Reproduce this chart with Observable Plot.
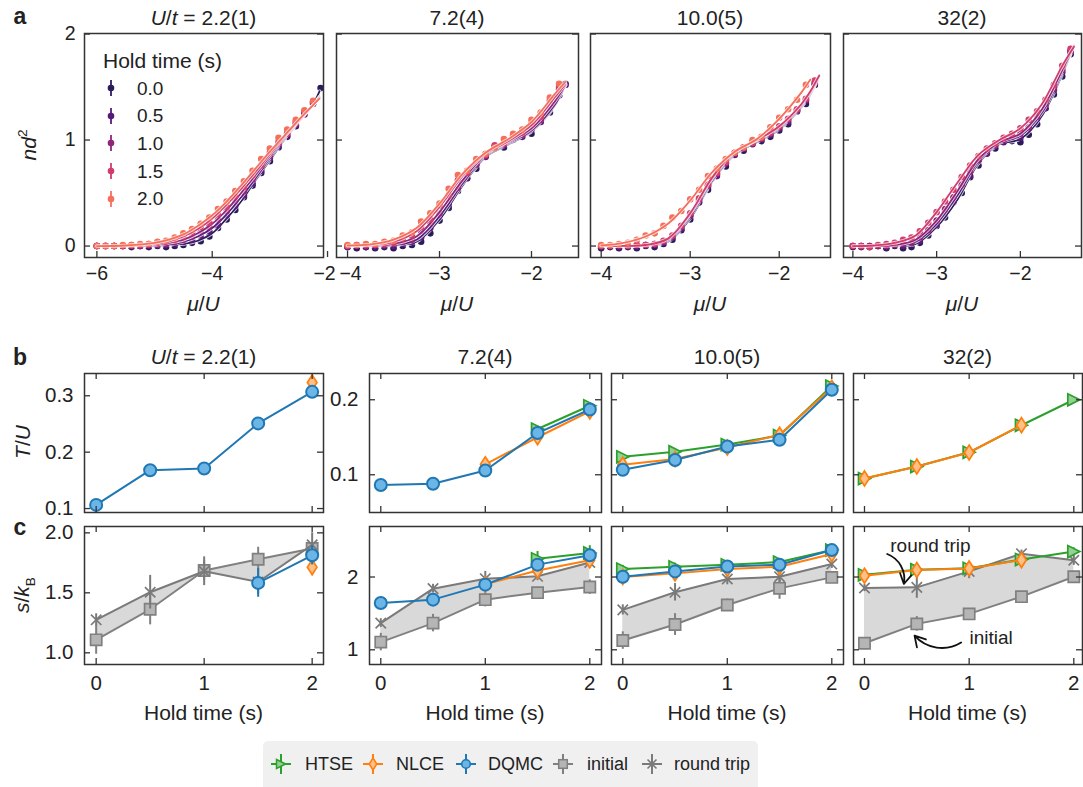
<!DOCTYPE html>
<html>
<head>
<meta charset="utf-8">
<script src="https://cdn.jsdelivr.net/npm/d3@7"></script>
<script src="https://cdn.jsdelivr.net/npm/@observablehq/plot@0.6"></script>
<style>
  body { margin: 0; background: #fff; }
  #fig { position: relative; width: 1083px; height: 787px; overflow: hidden; background: #fff;
         font-family: "Liberation Sans", Arial, Helvetica, sans-serif; color: #222; }
  .lbl { position: absolute; white-space: nowrap; line-height: 1; transform: translate(-50%, -50%); }
  .lbl sup { font-size: 0.65em; position: relative; top: -0.1em; }
  .lbl sub { font-size: 0.65em; position: relative; top: 0.05em; }
  .leg { position: absolute; white-space: nowrap; line-height: 1; }
</style>
</head>
<body>
<div id="fig"></div>
<script>
// ---------- data ----------
const holdTimes = [0, 0.5, 1, 1.5, 2];
const holdLabels = ["0.0", "0.5", "1.0", "1.5", "2.0"];
const holdColors = ["#2c1b5c", "#561b7a", "#8f2478", "#d23c6c", "#f56f5b"];
const couplings = ["2.2(1)", "7.2(4)", "10.0(5)", "32(2)"];

// panel a: nd^2 against mu/U, measured points and fitted curves, one row per hold time
const a1Mu = [-6.0,-5.85,-5.7,-5.55,-5.4,-5.25,-5.1,-4.95,-4.8,-4.65,-4.5,-4.35,-4.2,-4.05,-3.9,-3.75,-3.6,-3.45,-3.3,-3.15,-3.0,-2.85,-2.7,-2.55,-2.4,-2.25,-2.12];
const a1Dots = [
  [0,0,0,0,-0.01,0,-0.01,0,-0.01,0,0.01,0.03,0.045,0.09,0.17,0.25,0.34,0.46,0.57,0.69,0.80,0.93,1.03,1.13,1.26,1.36,1.49],
  [0,0,0,0,0,0,0,0.01,0.01,0.02,0.04,0.06,0.10,0.14,0.20,0.29,0.38,0.48,0.59,0.71,0.83,0.94,1.04,1.14,1.24,1.34,null],
  [0,0,0,0,0,0,0.01,0.01,0.02,0.04,0.06,0.09,0.14,0.18,0.25,0.33,0.43,0.52,0.63,0.75,0.85,0.96,1.06,1.15,1.25,1.35,null],
  [0,0,0,0,0.01,0.01,0.02,0.03,0.04,0.06,0.09,0.13,0.18,0.22,0.30,0.37,0.47,0.56,0.67,0.76,0.88,0.98,1.06,1.17,1.27,1.36,null],
  [0,0,0,0.01,0.01,0.02,0.02,0.04,0.05,0.08,0.12,0.16,0.21,0.27,0.35,0.42,0.52,0.61,0.71,0.82,0.92,1.02,1.10,1.19,1.28,1.37,null]
];
const a1FitMu = [-6,-5.5,-5,-4.75,-4.5,-4.25,-4,-3.75,-3.5,-3.25,-3,-2.75,-2.5,-2.25,-2.14];
const a1Fit = [
  [0,0,0.002,0.008,0.02,0.05,0.12,0.26,0.42,0.62,0.81,1.0,1.17,1.34,1.46],
  [0,0,0.005,0.015,0.04,0.09,0.17,0.30,0.46,0.64,0.83,1.01,1.17,1.33,1.41],
  [0,0,0.01,0.03,0.06,0.12,0.21,0.34,0.50,0.67,0.85,1.02,1.18,1.33,1.40],
  [0,0.003,0.02,0.045,0.09,0.16,0.26,0.39,0.54,0.70,0.87,1.03,1.18,1.33,1.40],
  [0,0.005,0.03,0.06,0.11,0.19,0.29,0.42,0.57,0.73,0.89,1.04,1.19,1.33,1.39]
];

const a2Mu = [-4.0,-3.9,-3.8,-3.7,-3.6,-3.5,-3.4,-3.3,-3.2,-3.1,-3.0,-2.9,-2.8,-2.7,-2.6,-2.5,-2.4,-2.3,-2.2,-2.1,-2.0,-1.9,-1.8,-1.7,-1.63];
const a2Dots = [
  [-0.01,-0.02,-0.01,-0.02,-0.01,-0.02,0.0,0.01,0.04,0.12,0.24,0.36,0.52,0.64,0.73,0.85,0.92,0.93,1.0,1.04,1.06,1.18,1.26,1.42,1.53],
  [-0.01,0,-0.01,-0.01,0,0.0,0.02,0.04,0.08,0.17,0.29,0.40,0.55,0.64,0.77,0.84,0.93,0.95,1.01,1.03,1.10,1.17,1.30,1.42,1.52],
  [0,0,0,0.01,0.01,0.02,0.04,0.06,0.14,0.22,0.31,0.45,0.55,0.69,0.77,0.85,0.94,0.96,1.02,1.05,1.12,1.19,1.32,1.48,null],
  [0,0.01,0.01,0.01,0.02,0.03,0.07,0.10,0.18,0.25,0.38,0.48,0.62,0.69,0.81,0.86,0.95,0.97,1.04,1.07,1.15,1.22,1.37,1.50,null],
  [0.01,0.01,0.02,0.02,0.04,0.05,0.10,0.13,0.23,0.31,0.40,0.54,0.67,0.71,0.82,0.87,0.93,1.01,1.06,1.10,1.19,1.26,1.40,1.53,null]
];
const a2FitMu = [-4,-3.75,-3.5,-3.25,-3,-2.75,-2.5,-2.25,-2,-1.75,-1.63];
const a2Fit = [
  [0,0,0.005,0.04,0.25,0.57,0.84,0.96,1.08,1.32,1.53],
  [0,0.002,0.01,0.06,0.28,0.59,0.85,0.97,1.09,1.33,1.52],
  [0,0.005,0.02,0.09,0.32,0.62,0.86,0.98,1.11,1.36,1.52],
  [0.003,0.01,0.04,0.14,0.37,0.66,0.87,0.99,1.14,1.40,1.53],
  [0.005,0.015,0.06,0.17,0.40,0.68,0.88,1.01,1.17,1.43,1.55]
];

const a3Mu = [-4.0,-3.9,-3.8,-3.7,-3.6,-3.5,-3.4,-3.3,-3.2,-3.1,-3.0,-2.9,-2.8,-2.7,-2.6,-2.5,-2.4,-2.3,-2.2,-2.1,-2.0,-1.9,-1.8,-1.7,-1.6];
const a3Dots = [
  [-0.02,-0.01,-0.02,-0.01,-0.02,0.0,-0.01,0.02,0.06,0.15,0.25,0.42,0.53,0.68,0.75,0.87,0.90,0.97,0.99,1.03,1.09,1.15,1.27,1.34,1.52],
  [-0.01,0,-0.01,0,-0.01,0.01,0.01,0.03,0.08,0.16,0.28,0.41,0.56,0.66,0.78,0.86,0.93,0.96,1.01,1.05,1.11,1.17,1.28,1.37,1.53],
  [0,0,0,0,0.01,0.01,0.02,0.04,0.09,0.18,0.29,0.44,0.57,0.68,0.78,0.87,0.92,0.98,1.01,1.06,1.12,1.19,1.28,1.38,1.55],
  [0,0,0.01,0,0.01,0.01,0.02,0.05,0.10,0.19,0.31,0.45,0.58,0.69,0.79,0.88,0.93,0.97,1.02,1.07,1.13,1.20,1.29,1.39,1.56],
  [0.01,0.01,0.02,0.03,0.06,0.10,0.12,0.19,0.27,0.33,0.44,0.53,0.66,0.73,0.82,0.88,0.93,1.0,1.03,1.12,1.21,1.29,1.38,1.52,null]
];
const a3FitMu = [-4,-3.75,-3.5,-3.25,-3,-2.75,-2.5,-2.25,-2,-1.75,-1.65,-1.55];
const a3Fit = [
  [0,0,0.002,0.04,0.26,0.61,0.86,0.98,1.10,1.31,1.43,1.60],
  [0,0,0.004,0.05,0.28,0.62,0.87,0.99,1.11,1.32,1.44,1.60],
  [0,0.001,0.006,0.06,0.30,0.64,0.88,1.0,1.12,1.33,1.45,1.60],
  [0,0.002,0.01,0.07,0.31,0.65,0.89,1.0,1.13,1.34,1.46,1.61],
  [0.005,0.03,0.09,0.21,0.43,0.70,0.89,1.01,1.20,1.45,1.57,null]
];

const a4Mu = [-4.0,-3.9,-3.8,-3.7,-3.6,-3.5,-3.4,-3.3,-3.2,-3.1,-3.0,-2.9,-2.8,-2.7,-2.6,-2.5,-2.4,-2.3,-2.2,-2.1,-2.0,-1.9,-1.8,-1.7,-1.6,-1.5,-1.4];
const a4Dots = [
  [-0.01,0,-0.01,0,-0.02,0,-0.02,-0.01,0.03,0.10,0.19,0.27,0.41,0.50,0.65,0.76,0.88,0.92,0.99,0.99,0.98,1.05,1.15,1.30,1.43,1.60,1.81],
  [0,-0.01,0,0,-0.01,0.01,0.0,0.03,0.05,0.14,0.20,0.32,0.42,0.56,0.66,0.81,0.87,0.95,0.98,1.03,1.02,1.11,1.20,1.30,1.47,1.64,1.84],
  [0,0,0,0,0,0.01,0.02,0.03,0.08,0.15,0.24,0.35,0.46,0.58,0.70,0.81,0.90,0.95,1.0,1.03,1.06,1.12,1.22,1.34,1.48,1.66,1.84],
  [0,0,-0.01,0.01,0.02,0.03,0.06,0.08,0.14,0.22,0.32,0.42,0.53,0.65,0.76,0.85,0.92,0.97,1.02,1.06,1.11,1.19,1.27,1.38,1.52,1.70,1.86]
];
const a4FitMu = [-4,-3.75,-3.5,-3.25,-3,-2.75,-2.5,-2.25,-2,-1.75,-1.5,-1.36];
const a4Fit = [
  [0,0,0,0.02,0.18,0.44,0.78,0.96,1.01,1.22,1.62,1.89],
  [0,0,0.005,0.04,0.21,0.48,0.80,0.97,1.04,1.25,1.64,1.89],
  [0,0,0.01,0.06,0.24,0.52,0.82,0.98,1.06,1.28,1.66,1.89],
  [0,0.005,0.03,0.10,0.32,0.60,0.86,1.0,1.11,1.33,1.70,1.88]
];

// panel b: T/U against hold time, one row per coupling
const tDQMC    = [[0.1065,0.168,0.171,0.251,0.307],[0.0863,0.088,0.1057,0.1556,0.187],[0.1067,0.1196,0.1377,0.1467,0.2133],[null,null,null,null,null]];
const tDQMCErr = [[0.002,0.003,0.003,0.004,0.005],[0.002,0.002,0.003,0.004,0.005],[0.002,0.003,0.003,0.003,0.004],[0,0,0,0,0]];
const tNLCE    = [[null,null,null,null,0.3235],[null,null,0.114,0.150,0.1845],[0.1133,0.1209,0.1364,0.1533,0.216],[0.0951,0.111,0.1297,0.1662,null]];
const tNLCEErr = [[0,0,0,0,0.012],[0,0,0.006,0.006,0.006],[0.004,0.004,0.004,0.004,0.005],[0.003,0.003,0.003,0.004,0]];
const tHTSE    = [[null,null,null,null,null],[null,null,null,0.161,0.192],[0.124,0.1307,0.1403,0.1523,0.2183],[0.095,0.111,0.13,0.166,0.2]];
const tHTSEErr = [[0,0,0,0,0],[0,0,0,0.004,0.004],[0.003,0.003,0.003,0.003,0.004],[0.003,0.003,0.003,0.003,0.003]];

// panel c: s/kB against hold time, one row per coupling
const sInitial    = [[1.108,1.363,1.686,1.78,1.869],[1.106,1.367,1.689,1.785,1.862],[1.127,1.347,1.616,1.844,1.995],[1.09,1.356,1.493,1.73,2.004]];
const sInitialErr = [[0.12,0.13,0.08,0.10,0.05],[0.12,0.12,0.10,0.07,0.10],[0.12,0.15,0.08,0.15,0.08],[0.03,0.10,0.04,0.04,0.04]];
const sRound      = [[1.275,1.505,1.68,1.59,1.90],[1.367,1.84,1.977,2.01,2.2],[1.548,1.79,1.973,2.004,2.178],[1.849,1.858,2.077,2.32,2.23]];
const sRoundErr   = [[0.05,0.14,0.12,0.10,0.10],[0.06,0.06,0.10,0.06,0.08],[0.07,0.12,0.08,0.08,0.06],[0.05,0.15,0.10,0.05,0.07]];
const sDQMC       = [[null,null,null,1.583,1.813],[1.643,1.689,1.895,2.17,2.30],[2.004,2.077,2.145,2.168,2.37],[null,null,null,null,null]];
const sDQMCErr    = [[0,0,0,0.12,0.08],[0.03,0.03,0.04,0.05,0.06],[0.03,0.03,0.04,0.04,0.05],[0,0,0,0,0]];
const sNLCE       = [[null,null,null,null,1.713],[null,null,1.9,2.09,2.23],[2.0,2.05,2.11,2.14,2.315],[2.018,2.096,2.118,2.233,null]];
const sNLCEErr    = [[0,0,0,0,0.07],[0,0,0.06,0.08,0.1],[0.04,0.04,0.04,0.04,0.06],[0.04,0.04,0.04,0.04,0]];
const sHTSE       = [[null,null,null,null,null],[null,null,null,2.25,2.33],[2.11,2.14,2.168,2.205,2.37],[2.03,2.1,2.12,2.24,2.35]];
const sHTSEErr    = [[0,0,0,0,0],[0,0,0,0.1,0.1],[0.05,0.05,0.05,0.05,0.06],[0.04,0.04,0.04,0.05,0.05]];

// ---------- marker shapes ----------
const rad = size => Math.sqrt(size / Math.PI);
const squareSym  = {draw(c, s) { const r = rad(s); c.moveTo(-r,-r); c.lineTo(r,-r); c.lineTo(r,r); c.lineTo(-r,r); c.closePath(); }};
const timesSym   = {draw(c, s) { const r = rad(s); c.moveTo(-r,-r); c.lineTo(r,r); c.moveTo(-r,r); c.lineTo(r,-r); }};
const triSym     = {draw(c, s) { const r = rad(s); c.moveTo(r,0); c.lineTo(-r,-r); c.lineTo(-r,r); c.closePath(); }};
const diamondSym = {draw(c, s) { const r = rad(s); c.moveTo(0,-1.25*r); c.lineTo(0.8*r,0); c.lineTo(0,1.25*r); c.lineTo(-0.8*r,0); c.closePath(); }};

const styles = {
  initial: {stroke: "#808080", fill: "#b5b5b5", symbol: squareSym, r: 5.6},
  round:   {stroke: "#7a7a7a", fill: "none",    symbol: timesSym,  r: 5.2},
  HTSE:    {stroke: "#2ca02c", fill: "#95d095", symbol: triSym,    r: 6},
  NLCE:    {stroke: "#ff7f0e", fill: "#ffbf86", symbol: diamondSym, r: 6},
  DQMC:    {stroke: "#1f77b4", fill: "#6bb6e6", symbol: "circle",  r: 6}
};

// ---------- layout helpers ----------
const FONT = '"Liberation Sans", Arial, Helvetica, sans-serif';
const fig = document.getElementById("fig");
const ML = 70, MR = 14, MT = 14, MB = 44, TICK = 6;

// nudges: [tick value, horizontal shift] for edge labels that would crowd a neighbouring panel
function panel({box, x, y, xTicks, yTicks, xFormat, yFormat, xText = true, topTicks = true, pad = 10, fontSize = 20.5, nudges = [], marks = []}) {
  const [x0, y0, x1, y1] = box;
  const w = x1 - x0, h = y1 - y0;
  const tk = {stroke: "#333", strokeWidth: 1.3};
  const nudged = nudges.map(n => n[0]);
  const xAxisOpts = {anchor: "bottom", tickSize: 0, tickPadding: pad, tickFormat: xFormat, label: null};
  const svg = Plot.plot({
    width: w + ML + MR, height: h + MT + MB,
    marginLeft: ML, marginRight: MR, marginTop: MT, marginBottom: MB,
    x: {domain: x, axis: null},
    y: {domain: y, axis: null},
    style: {background: "transparent", overflow: "visible", fontFamily: FONT, fontSize: fontSize + "px", color: "#222"},
    marks: [
      ...marks,
      Plot.ruleX(xTicks, {insetTop: h - TICK, ...tk}),
      topTicks ? Plot.ruleX(xTicks, {insetBottom: h - TICK, ...tk}) : null,
      Plot.ruleY(yTicks, {insetRight: w - TICK, ...tk}),
      Plot.ruleY(yTicks, {insetLeft: w - TICK, ...tk}),
      Plot.frame({stroke: "#333", strokeWidth: 1.5}),
      xText ? Plot.axisX(xTicks.filter(t => !nudged.includes(t)), xAxisOpts) : null,
      ...(xText ? nudges.map(([t, dx]) => Plot.axisX([t], {...xAxisOpts, dx})) : []),
      Plot.axisY(yTicks, {anchor: "left", tickSize: 0, tickPadding: pad, tickFormat: yFormat, label: null})
    ]
  });
  svg.style.position = "absolute";
  svg.style.left = (x0 - ML) + "px";
  svg.style.top = (y0 - MT) + "px";
  fig.append(svg);
}

function label(html, cx, cy, {size = 21, rotate = 0, weight = 400} = {}) {
  const d = document.createElement("div");
  d.className = "lbl";
  d.innerHTML = html;
  d.style.left = cx + "px";
  d.style.top = cy + "px";
  d.style.fontSize = size + "px";
  d.style.fontWeight = weight;
  if (rotate) d.style.transform = `translate(-50%, -50%) rotate(${rotate}deg)`;
  fig.append(d);
}

// ---------- panel a ----------
function curveMarks(mu, dots, fitMu, fits) {
  const marks = [];
  dots.forEach((ys, s) => {
    const pts = mu.map((x, i) => ({x, y: ys[i]})).filter(d => d.y != null);
    const fit = fitMu.map((x, i) => ({x, y: fits[s][i]})).filter(d => d.y != null);
    marks.push(
      Plot.dot(pts, {x: "x", y: "y", r: 3.3, fill: holdColors[s]}),
      Plot.line(fit, {x: "x", y: "y", stroke: "#fff", strokeOpacity: 0.75, strokeWidth: 3.6, curve: "catmull-rom"}),
      Plot.line(fit, {x: "x", y: "y", stroke: holdColors[s], strokeWidth: 1.8, curve: "catmull-rom"})
    );
  });
  return marks;
}

const aY = [-0.108, 2.005];
const aPanels = [
  {box: [84, 33, 323, 257],  x: [-6.215, -2.07],  xTicks: [-6, -4, -2], nudges: [[-2, -3]], data: [a1Mu, a1Dots, a1FitMu, a1Fit]},
  {box: [336, 33, 578, 257], x: [-4.12, -1.489],  xTicks: [-4, -3, -2], nudges: [[-4, 3]],  data: [a2Mu, a2Dots, a2FitMu, a2Fit]},
  {box: [590, 33, 830, 257], x: [-4.12, -1.424],  xTicks: [-4, -3, -2], nudges: [], data: [a3Mu, a3Dots, a3FitMu, a3Fit]},
  {box: [843, 33, 1081, 257], x: [-4.112, -1.27], xTicks: [-4, -3, -2], nudges: [], data: [a4Mu, a4Dots, a4FitMu, a4Fit]}
];
aPanels.forEach((p, k) => panel({
  box: p.box, x: p.x, y: aY, xTicks: p.xTicks, yTicks: [0, 1, 2], nudges: p.nudges,
  xFormat: d3.format("d"),
  yFormat: k === 0 ? d3.format("d") : () => "", topTicks: false, pad: 9, fontSize: 19.5,
  marks: curveMarks(...p.data)
}));

// ---------- panels b and c ----------
function rows(vals, errs) {
  return holdTimes.map((t, i) => ({t, v: vals[i], e: errs[i]})).filter(d => d.v != null);
}
function seriesMarks(data, st) {
  return [
    Plot.ruleX(data, {x: "t", y1: d => d.v - d.e, y2: d => d.v + d.e, stroke: st.stroke, strokeWidth: 2}),
    Plot.line(data, {x: "t", y: "v", stroke: st.stroke, strokeWidth: 2}),
    Plot.dot(data, {x: "t", y: "v", symbol: st.symbol, r: st.r, fill: st.fill, stroke: st.stroke, strokeWidth: st.symbol === "circle" ? 2 : 1.7})
  ];
}

const bcX = [[-0.108, 2.105], [-0.108, 2.112], [-0.108, 2.112], [-0.105, 2.083]];
const bcLeft = [[84, 323], [369, 601], [611, 843], [853, 1082]];

// annotation for the strong-coupling entropy panel
const noteText = [{x: 0.63, y: 2.43, t: "round trip"}, {x: 1.21, y: 1.17, t: "initial"}];
const roundArrow = [{x1: 0.217, y1: 2.316, x2: 0.376, y2: 1.904}];
const initialArrow = [{x1: 0.924, y1: 1.10, x2: 0.478, y2: 1.194}];

for (let k = 0; k < 4; k++) {
  const [l, r] = bcLeft[k];
  // T/U
  panel({
    box: [l, 373, r, 512], x: bcX[k],
    y: k === 0 ? [0.093, 0.3395] : [0.0497, 0.235],
    xTicks: [0, 1, 2], yTicks: k === 0 ? [0.1, 0.2, 0.3] : [0.1, 0.2],
    xText: false, yFormat: k <= 1 ? d3.format(".1f") : () => "",
    pad: 11,
    marks: [
      ...seriesMarks(rows(tHTSE[k], tHTSEErr[k]), styles.HTSE),
      ...seriesMarks(rows(tNLCE[k], tNLCEErr[k]), styles.NLCE),
      ...seriesMarks(rows(tDQMC[k], tDQMCErr[k]), styles.DQMC)
    ]
  });
  // s/kB
  const band = holdTimes.map((t, i) => ({t, lo: sInitial[k][i], hi: sRound[k][i]}));
  const arrowStyle = {x1: "x1", y1: "y1", x2: "x2", y2: "y2", stroke: "#111", strokeWidth: 1.8, headLength: 10};
  const extra = k === 3 ? [
    Plot.arrow(roundArrow, {...arrowStyle, bend: 40}),
    Plot.arrow(initialArrow, {...arrowStyle, bend: 40}),
    Plot.text(noteText, {x: "x", y: "y", text: "t", fontSize: 19, fill: "#222"})
  ] : [];
  panel({
    box: [l, 526, r, 664], x: bcX[k],
    y: k === 0 ? [0.9025, 2.053] : [0.798, 2.694],
    xTicks: [0, 1, 2], yTicks: k === 0 ? [1.0, 1.5, 2.0] : [1, 2],
    xFormat: d3.format("d"),
    yFormat: k === 0 ? d3.format(".1f") : (k === 1 ? d3.format("d") : () => ""),
    pad: 11,
    marks: [
      Plot.areaY(band, {x: "t", y1: "lo", y2: "hi", fill: "#d9d9d9"}),
      ...seriesMarks(rows(sInitial[k], sInitialErr[k]), styles.initial),
      ...seriesMarks(rows(sRound[k], sRoundErr[k]), styles.round),
      ...seriesMarks(rows(sHTSE[k], sHTSEErr[k]), styles.HTSE),
      ...seriesMarks(rows(sNLCE[k], sNLCEErr[k]), styles.NLCE),
      ...seriesMarks(rows(sDQMC[k], sDQMCErr[k]), styles.DQMC),
      ...extra
    ]
  });
}

// ---------- titles and axis labels ----------
const aCenters = [203.5, 457, 710, 962];
const bCenters = [203.5, 485, 727, 967.5];
couplings.forEach((c, k) => {
  const txt = k === 0 ? `<i>U</i>/<i>t</i> = ${c}` : c;
  label(txt, aCenters[k], 17);
  label(txt, bCenters[k], 356);
  label("<i>μ</i>/<i>U</i>", aCenters[k], 303);
  label("Hold time (s)", bCenters[k], 712);
});
label("a", 20, 16, {size: 23, weight: 700});
label("b", 20, 357, {size: 23, weight: 700});
label("c", 20, 527, {size: 23, weight: 700});
label("<i>nd</i><sup>2</sup>", 28, 145, {rotate: -90});
label("<i>T</i>/<i>U</i>", 22, 442, {rotate: -90});
label("<i>s</i>/<i>k</i><sub>B</sub>", 24, 595, {rotate: -90});

// ---------- hold-time legend inside the first curve panel ----------
function legText(html, left, cy, size) {
  const d = document.createElement("div");
  d.className = "leg";
  d.innerHTML = html;
  d.style.left = left + "px";
  d.style.top = (cy - size * 0.5) + "px";
  d.style.fontSize = size + "px";
  fig.append(d);
  return d;
}
function swatchSvg(inner, cx, cy) {
  const s = document.createElementNS("http://www.w3.org/2000/svg", "svg");
  s.setAttribute("width", 30); s.setAttribute("height", 30);
  s.setAttribute("viewBox", "-15 -15 30 30");
  s.style.position = "absolute";
  s.style.left = (cx - 15) + "px"; s.style.top = (cy - 15) + "px";
  s.style.overflow = "visible";
  s.innerHTML = inner;
  fig.append(s);
}
legText("Hold time (s)", 103, 60, 21);
holdLabels.forEach((h, s) => {
  const cy = 88 + s * 27.7;
  swatchSvg(`<line x1="0" x2="0" y1="-8" y2="8" stroke="${holdColors[s]}" stroke-width="1.8"/><circle r="3.3" fill="${holdColors[s]}"/>`, 111, cy);
  legText(h, 137, cy, 19);
});

// ---------- method legend below the entropy panels ----------
const box = document.createElement("div");
Object.assign(box.style, {position: "absolute", left: "263px", top: "741px", width: "495px", height: "50px",
  background: "#f0f0f0", borderRadius: "5px"});
fig.append(box);
const legendItems = [
  {name: "HTSE", st: styles.HTSE, mx: 281, tx: 305},
  {name: "NLCE", st: styles.NLCE, mx: 373, tx: 396},
  {name: "DQMC", st: styles.DQMC, mx: 466, tx: 488},
  {name: "initial", st: styles.initial, mx: 563, tx: 587},
  {name: "round trip", st: styles.round, mx: 652, tx: 674}
];
const shapes = {
  HTSE: st => `<path d="M4.5,0L-4.5,-4.5L-4.5,4.5Z" fill="${st.fill}" stroke="${st.stroke}" stroke-width="1.5"/>`,
  NLCE: st => `<path d="M0,-6L3.8,0L0,6L-3.8,0Z" fill="${st.fill}" stroke="${st.stroke}" stroke-width="1.5"/>`,
  DQMC: st => `<circle r="4.3" fill="${st.fill}" stroke="${st.stroke}" stroke-width="1.6"/>`,
  initial: st => `<rect x="-4.3" y="-4.3" width="8.6" height="8.6" fill="${st.fill}" stroke="${st.stroke}" stroke-width="1.5"/>`,
  "round trip": st => `<path d="M-4.5,-4.5L4.5,4.5M-4.5,4.5L4.5,-4.5" stroke="${st.stroke}" stroke-width="1.6"/>`
};
legendItems.forEach(it => {
  const c = it.st.stroke;
  swatchSvg(`<line x1="-10" x2="10" y1="0" y2="0" stroke="${c}" stroke-width="2"/>` +
            `<line x1="0" x2="0" y1="-10" y2="10" stroke="${c}" stroke-width="2"/>` + shapes[it.name](it.st), it.mx, 764);
  legText(it.name, it.tx, 764, 18);
});
</script>
</body>
</html>
